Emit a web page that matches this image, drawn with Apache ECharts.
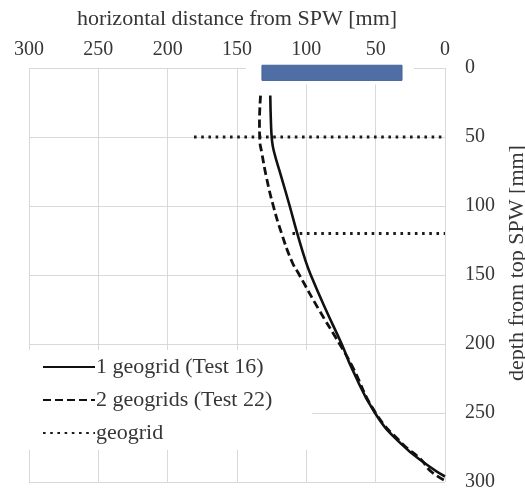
<!DOCTYPE html>
<html>
<head>
<meta charset="utf-8">
<script src="https://cdn.jsdelivr.net/npm/echarts@6/dist/echarts.min.js"></script>
<style>
html, body { margin: 0; padding: 0; background: #fff; }
#main { width: 525px; height: 496px; }
</style>
</head>
<body>
<div id="main"></div>
<script>
// distances: [horizontal distance, depth] in mm
var test16 = [[126, 20], [125.5, 40], [124.8, 52], [123.5, 60], [118, 79], [112, 100], [106.5, 120], [100.5, 140],
    [96.8, 150], [86, 175], [74.5, 200], [67, 218], [50.5, 250], [32, 272], [11, 289], [0, 296]];
var test22 = [[133, 20], [133.8, 40], [133.6, 52], [132.2, 61], [128.6, 80], [123.8, 100], [117.8, 120],
    [110.5, 140], [105, 150], [91, 175], [76, 200], [67.5, 215], [50, 250], [31, 272], [17, 284], [10.5, 292], [0, 299]];
var geogrid1 = [[181, 50], [0, 50]];
var geogrid2 = [[110, 120], [0, 120]];
// steel plate wall at the top
var wallX = [132, 31];
var wallDepth = [-2, 9];

var font = 'Liberation Serif';
var textColor = '#363636';

var myChart = echarts.init(document.getElementById('main'));

var option = {
    animation: false,
    grid: { left: 29, right: 80, top: 68, bottom: 14, outerBoundsMode: 'none', containLabel: false },
    legend: {
        orient: 'vertical',
        left: 25,
        top: 350,
        padding: [5, 40, 5, 17],
        backgroundColor: '#fff',
        itemWidth: 52,
        itemHeight: 14,
        itemGap: 9,
        itemStyle: { opacity: 0 },
        textStyle: { fontFamily: font, fontSize: 22, color: textColor, lineHeight: 24, padding: [0, 0, 0, -4] },
        data: ['1 geogrid (Test 16)', '2 geogrids (Test 22)', 'geogrid']
    },
    xAxis: {
        type: 'value',
        position: 'top',
        inverse: true,
        min: 0,
        max: 300,
        interval: 50,
        name: 'horizontal distance from SPW [mm]',
        nameLocation: 'middle',
        nameGap: 38,
        nameTextStyle: { fontFamily: font, fontSize: 22, color: textColor },
        axisLine: { show: false },
        axisTick: { show: false },
        axisLabel: { fontFamily: font, fontSize: 20, color: textColor, margin: 8 },
        splitLine: { lineStyle: { color: '#d9d9d9', width: 1 } }
    },
    yAxis: {
        type: 'value',
        position: 'right',
        inverse: true,
        min: 0,
        max: 300,
        interval: 50,
        name: 'depth from top SPW [mm]',
        nameLocation: 'middle',
        nameRotate: 90,
        nameGap: 56,
        nameTextStyle: { fontFamily: font, fontSize: 22, color: textColor, padding: [0, 0, 0, 24] },
        axisLine: { show: false },
        axisTick: { show: false },
        axisLabel: { fontFamily: font, fontSize: 20, color: textColor, margin: 20 },
        splitLine: { lineStyle: { color: '#d9d9d9', width: 1 } }
    },
    series: [
        {
            type: 'custom',
            name: 'wall',
            clip: false,
            silent: true,
            z: 3,
            data: [[wallX[0], wallDepth[0], wallX[1], wallDepth[1]]],
            renderItem: function (params, api) {
                var p1 = api.coord([api.value(0), api.value(1)]);
                var p2 = api.coord([api.value(2), api.value(3)]);
                var x = Math.min(p1[0], p2[0]), y = Math.min(p1[1], p2[1]);
                var w = Math.abs(p2[0] - p1[0]), h = Math.abs(p2[1] - p1[1]);
                return {
                    type: 'group',
                    children: [
                        { type: 'rect', shape: { x: x - 16, y: y - 4, width: w + 28, height: h + 8 }, style: { fill: '#fff' } },
                        { type: 'rect', shape: { x: x, y: y, width: w, height: h }, style: { fill: '#4f6ea4', stroke: '#46639a', lineWidth: 1 } }
                    ]
                };
            }
        },
        {
            type: 'line',
            name: 'geogrid',
            data: geogrid1,
            symbol: 'none',
            z: 4,
            lineStyle: { color: '#1a1a1a', width: 3, type: [2.6, 4.6], cap: 'butt' }
        },
        {
            type: 'line',
            name: 'geogrid',
            data: geogrid2,
            symbol: 'none',
            z: 4,
            lineStyle: { color: '#1a1a1a', width: 3, type: [2.6, 4.6], cap: 'butt' }
        },
        {
            type: 'line',
            name: '2 geogrids (Test 22)',
            data: test22,
            smooth: 0.5,
            symbol: 'none',
            z: 5,
            lineStyle: { color: '#111', width: 2.8, type: [8, 4] }
        },
        {
            type: 'line',
            name: '1 geogrid (Test 16)',
            data: test16,
            smooth: 0.5,
            symbol: 'none',
            z: 6,
            lineStyle: { color: '#111', width: 2.6, type: 'solid' }
        }
    ]
};

myChart.setOption(option);
</script>
</body>
</html>
